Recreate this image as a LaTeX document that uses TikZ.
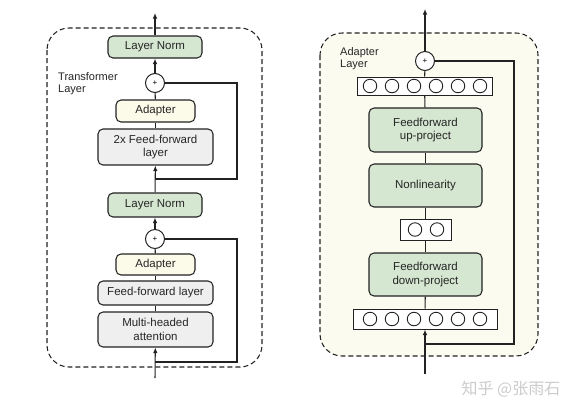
\documentclass[tikz,border=0pt]{standalone}
\usepackage{fontspec}
\setmainfont{Liberation Sans}
\newfontfamily\cjk{Noto Sans CJK SC}
\usetikzlibrary{arrows.meta}
\definecolor{boxgreen}{HTML}{D5E6D1}
\definecolor{boxgray}{HTML}{EFEFEF}
\definecolor{boxcream}{HTML}{FCFBEA}
\definecolor{panelcream}{HTML}{FCFBF0}
\definecolor{edge}{HTML}{222222}
\tikzset{
  blk/.style={draw=edge, line width=1.05pt, rounded corners=5pt, align=center, inner sep=0pt,
              font=\fontsize{11.5}{13.5}\selectfont, text=black!85},
  greenbox/.style={blk, fill=boxgreen},
  graybox/.style={blk, fill=boxgray},
  creambox/.style={blk, fill=boxcream},
  plusnode/.style={draw=edge, line width=1pt, circle, fill=white, minimum size=19pt, inner sep=0pt,
              font=\fontsize{8}{8}\selectfont},
  neuronbar/.style={draw=edge, line width=1pt, fill=white, inner sep=0pt},
  neuron/.style={draw=edge, line width=0.9pt, circle, minimum size=13.5pt, inner sep=0pt},
  conn/.style={draw=edge, line width=1.05pt},
  arr/.style={conn, -{Latex[length=5.5pt,width=4.5pt]}},
  outer/.style={dashed, dash pattern=on 5pt off 3pt, line width=1.05pt, draw=edge, rounded corners=22pt},
  lbl/.style={align=left, font=\fontsize{11}{12.5}\selectfont, text=black!85, inner sep=0pt, anchor=north west}
}
\begin{document}
\begin{tikzpicture}[x=1pt,y=-1pt]
\useasboundingbox[fill=white] (0,0) rectangle (580,413);
% ---------- left panel ----------
\draw[outer] (47,28) rectangle (262,367);
\node[lbl] (tl) at (58,72) {Transformer\\Layer};
\node[greenbox, minimum width=94pt, minimum height=22pt] (ln1) at (155,47) {Layer Norm};
\node[plusnode] (p1) at (155,83) {+};
\node[creambox, minimum width=79pt, minimum height=22pt] (ad1) at (155.5,111) {Adapter};
\node[graybox, minimum width=115pt, minimum height=36pt] (ff2) at (155.5,147) {2x Feed-forward\\layer};
\node[greenbox, minimum width=94pt, minimum height=24pt] (ln2) at (155,205) {Layer Norm};
\node[plusnode] (p2) at (155,239) {+};
\node[creambox, minimum width=79pt, minimum height=21pt] (ad2) at (155.5,264.5) {Adapter};
\node[graybox, minimum width=115pt, minimum height=24pt] (ff) at (155.5,293) {Feed-forward layer};
\node[graybox, minimum width=115pt, minimum height=35pt] (mha) at (155.5,329.5) {Multi-headed\\attention};
\coordinate (outL) at (155,13);
\coordinate (inL) at (155,378);
\coordinate (j1) at (155,179);
\coordinate (j2) at (155,362);
\coordinate (c1) at (237,179);
\coordinate (c2) at (237,362);
\draw[arr] (ln1) -- (outL);
\draw[arr] (p1) -- (ln1);
\draw[conn] (ad1) -- (p1);
\draw[conn] (ff2) -- (ad1);
\draw[arr] (ln2) -- (ff2);
\draw[conn] (j1) -- (c1) |- (p1);
\draw[arr] (p2) -- (ln2);
\draw[conn] (ad2) -- (p2);
\draw[conn] (ff) -- (ad2);
\draw[conn] (mha) -- (ff);
\draw[arr] (inL) -- (mha);
\draw[conn] (j2) -- (c2) |- (p2);
% ---------- right panel ----------
\draw[outer, fill=panelcream] (320,33) rectangle (538,356);
\node[lbl] (al) at (340,47) {Adapter\\Layer};
\node[plusnode] (p3) at (425,61) {+};
\node[neuronbar, minimum width=135pt, minimum height=18pt] (topbar) at (424.5,86) {};
\foreach \i in {0,...,5} \node[neuron] (tn\i) at (370+22*\i,86) {};
\node[greenbox, minimum width=113pt, minimum height=44pt] (up) at (425.5,130) {Feedforward\\up-project};
\node[greenbox, minimum width=113pt, minimum height=43pt] (nl) at (425.5,185.5) {Nonlinearity};
\node[neuronbar, minimum width=51pt, minimum height=21pt] (midbar) at (425.5,229.5) {};
\foreach \i in {0,1} \node[neuron] (mn\i) at (415+22*\i,229.5) {};
\node[greenbox, minimum width=113pt, minimum height=43pt] (down) at (425.5,274.5) {Feedforward\\down-project};
\node[neuronbar, minimum width=144pt, minimum height=20pt] (botbar) at (425,319) {};
\foreach \i in {0,...,5} \node[neuron] (bn\i) at (370+22*\i,319) {};
\coordinate (outR) at (425,9);
\coordinate (inR) at (425,374);
\coordinate (j3) at (425,344);
\coordinate (c3) at (514,344);
\draw[arr] (p3) -- (outR);
\draw[conn] (topbar) -- (p3);
\draw[conn] (up) -- (topbar);
\draw[conn] (nl) -- (up);
\draw[conn] (midbar) -- (nl);
\draw[conn] (down) -- (midbar);
\draw[conn] (botbar) -- (down);
\draw[arr] (inR) -- (botbar);
\draw[conn] (j3) -- (c3) |- (p3);
% ---------- watermark ----------
\node[font=\cjk\fontsize{16}{18}\selectfont, text=black!20, inner sep=0pt] (wm) at (511,389) {知乎 @张雨石};
\end{tikzpicture}
\end{document}
